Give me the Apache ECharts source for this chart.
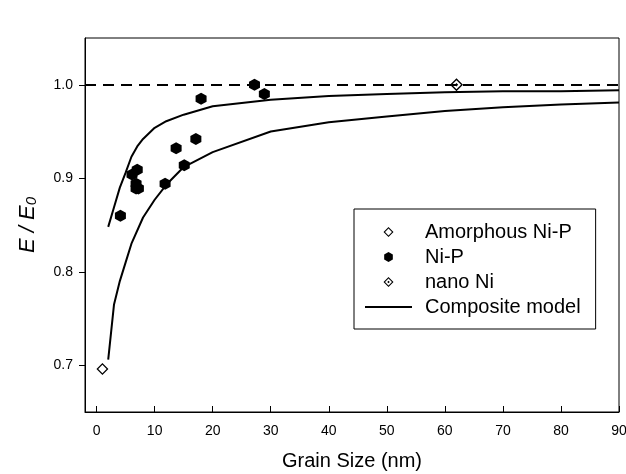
<!DOCTYPE html>
<html>
<head>
<meta charset="utf-8">
<script src="https://cdn.jsdelivr.net/npm/echarts@6/dist/echarts.min.js"></script>
<style>
  html, body { margin: 0; padding: 0; background: #fff; }
  #chart { width: 626px; height: 474px; }
</style>
</head>
<body>
<div id="chart"></div>
<script>
// grain size (nm) vs E/E0
const amorphousX = [1.0];
const amorphousY = [0.696];

const niPX = [4.1, 6.1, 7.0, 6.8, 6.8, 7.2, 11.8, 13.7, 15.1, 17.1, 18.0, 27.2, 28.9];
const niPY = [0.860, 0.904, 0.909, 0.894, 0.889, 0.889, 0.894, 0.932, 0.914, 0.942, 0.985, 1.000, 0.990];

const nanoNiX = [62.0];
const nanoNiY = [1.000];

// composite model, upper and lower bound
const modelX = [2, 3, 4, 5, 6, 7, 8, 10, 12, 15, 20, 30, 40, 50, 60, 70, 80, 90];
const modelUpper = [0.848, 0.869, 0.890, 0.906, 0.923, 0.934, 0.942, 0.954, 0.961, 0.968, 0.977, 0.984, 0.988, 0.990, 0.992, 0.993, 0.993, 0.994];
const modelLowerX = [2, 3, 4, 5, 6, 8, 10, 12, 15, 20, 30, 40, 50, 60, 70, 80, 90];
const modelLower = [0.706, 0.765, 0.790, 0.810, 0.830, 0.858, 0.877, 0.893, 0.912, 0.928, 0.950, 0.960, 0.966, 0.972, 0.976, 0.979, 0.981];

const referenceLevel = 1.0;

const xTicks = [0, 10, 20, 30, 40, 50, 60, 70, 80, 90];
const yTicks = [0.7, 0.8, 0.9, 1.0];

const zip = (xs, ys) => xs.map((x, i) => [x, ys[i]]);

// symbols
const hexagon = 'path://M0,-10 L8.66,-5 L8.66,5 L0,10 L-8.66,5 L-8.66,-5 Z';
const openDiamond = 'path://M0,-10 L10,0 L0,10 L-10,0 Z M0,-7 L-7,0 L0,7 L7,0 Z';
const dotDiamond = 'path://M0,-10 L10,0 L0,10 L-10,0 Z M0,-7 L-7,0 L0,7 L7,0 Z M0,-2.6 L2.6,0 L0,2.6 L-2.6,0 Z';
const lineIcon = 'path://M0,0 L47,0 L47,2 L0,2 Z';

const font = 'Liberation Sans, Arial, sans-serif';

const chart = echarts.init(document.getElementById('chart'));

const option = {
    backgroundColor: '#fff',
    animation: false,
    grid: {
        left: 85,
        right: 7,
        top: 38,
        bottom: 62,
        outerBoundsMode: 'none',
        show: true,
        borderColor: '#000',
        borderWidth: 1
    },
    legend: {
        data: [
            'Amorphous Ni-P',
            'Ni-P',
            'nano Ni',
            { name: 'Composite model', icon: lineIcon }
        ],
        orient: 'vertical',
        left: 354,
        top: 209,
        itemWidth: 47,
        itemHeight: 10,
        itemGap: 5,
        padding: [13, 15, 12, 11],
        borderColor: '#000',
        borderWidth: 1,
        backgroundColor: '#fff',
        selectedMode: false,
        textStyle: {
            fontFamily: font,
            fontSize: 20,
            color: '#000',
            padding: [0, 0, 0, 8]
        }
    },
    xAxis: {
        type: 'value',
        min: -2,
        max: 90,
        name: 'Grain Size (nm)',
        nameLocation: 'middle',
        nameGap: 39,
        nameTextStyle: { fontFamily: font, fontSize: 20, color: '#000' },
        axisLine: { onZero: false, lineStyle: { color: '#000', width: 1 } },
        axisTick: { inside: true, length: 6, customValues: xTicks, lineStyle: { color: '#000' } },
        axisLabel: { customValues: xTicks, margin: 12, fontFamily: font, fontSize: 14, color: '#000' },
        splitLine: { show: false }
    },
    yAxis: {
        type: 'value',
        min: 0.65,
        max: 1.05,
        name: '{i|E / E}{s|0}',
        nameLocation: 'middle',
        nameGap: 46,
        nameTextStyle: {
            rich: {
                i: { fontFamily: font, fontSize: 22, fontStyle: 'italic', color: '#000' },
                s: { fontFamily: font, fontSize: 15, fontStyle: 'italic', color: '#000', padding: [8, 0, 0, 0] }
            }
        },
        axisLine: { onZero: false, lineStyle: { color: '#000', width: 1 } },
        axisTick: { inside: false, length: 6, customValues: yTicks, lineStyle: { color: '#000' } },
        axisLabel: {
            customValues: yTicks, margin: 12, fontFamily: font, fontSize: 14, color: '#000',
            formatter: v => v.toFixed(1)
        },
        splitLine: { show: false }
    },
    series: [
        {
            name: 'Composite model',
            type: 'line',
            data: zip(modelX, modelUpper),
            symbol: 'none',
            lineStyle: { color: '#000', width: 2 },
            itemStyle: { color: '#000' },
            z: 2,
            markLine: {
                silent: true,
                symbol: 'none',
                label: { show: false },
                lineStyle: { color: '#000', width: 2, type: [11, 7] },
                data: [{ yAxis: referenceLevel }]
            }
        },
        {
            name: 'Composite model',
            type: 'line',
            data: zip(modelLowerX, modelLower),
            symbol: 'none',
            lineStyle: { color: '#000', width: 2 },
            itemStyle: { color: '#000' },
            z: 2
        },
        {
            name: 'Amorphous Ni-P',
            type: 'scatter',
            data: zip(amorphousX, amorphousY),
            symbol: openDiamond,
            symbolSize: 12,
            itemStyle: { color: '#000', opacity: 1 },
            z: 5
        },
        {
            name: 'Ni-P',
            type: 'scatter',
            data: zip(niPX, niPY),
            symbol: hexagon,
            symbolSize: [11, 12],
            itemStyle: { color: '#000', opacity: 1 },
            z: 5
        },
        {
            // white fill under the nano Ni marker
            name: 'nano Ni fill',
            type: 'scatter',
            data: zip(nanoNiX, nanoNiY),
            symbol: 'diamond',
            symbolSize: 12,
            itemStyle: { color: '#fff', opacity: 1 },
            z: 4
        },
        {
            name: 'nano Ni',
            type: 'scatter',
            data: zip(nanoNiX, nanoNiY),
            symbol: dotDiamond,
            symbolSize: 13,
            itemStyle: { color: '#000', opacity: 1 },
            z: 5
        }
    ]
};

chart.setOption(option);
</script>
</body>
</html>
